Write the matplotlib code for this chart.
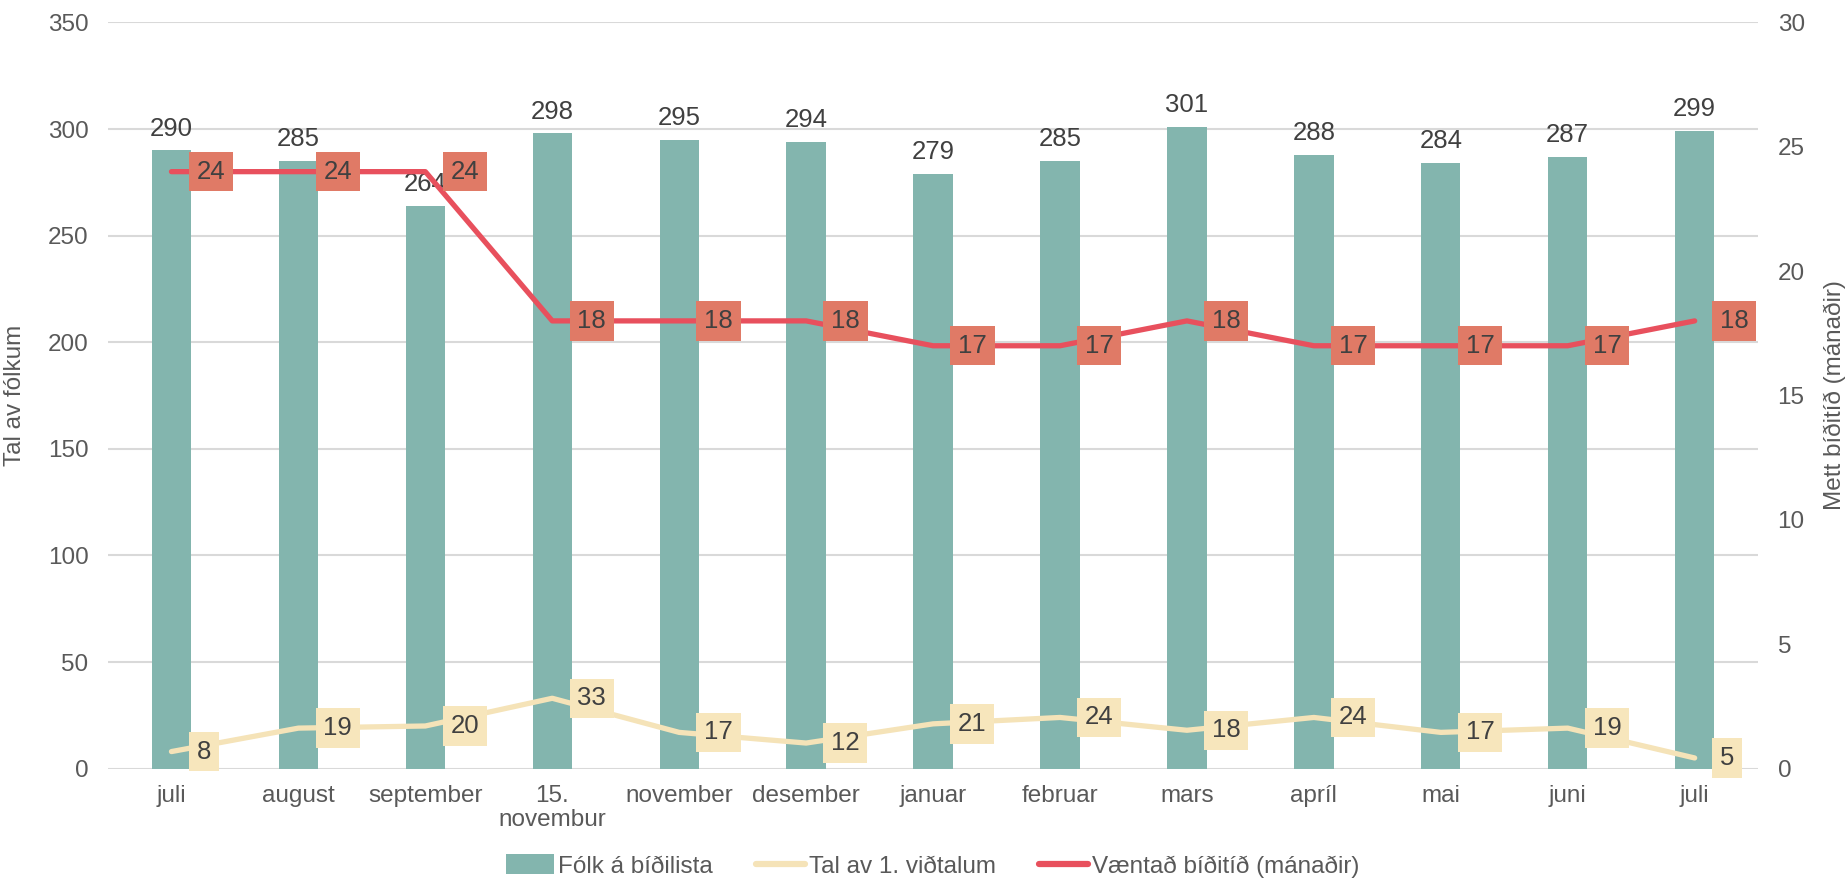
import matplotlib
matplotlib.use("Agg")
import matplotlib.pyplot as plt
from matplotlib.patches import Patch
from matplotlib.lines import Line2D
import numpy as np

plt.rcParams['font.family'] = ['Liberation Sans', 'DejaVu Sans']

categories = ["juli", "august", "september", "15.\nnovembur", "november", "desember",
              "januar", "februar", "mars", "apríl", "mai", "juni", "juli"]
folk_a_bidilista = [290, 285, 264, 298, 295, 294, 279, 285, 301, 288, 284, 287, 299]
tal_1_vidtalum = [8, 19, 20, 33, 17, 12, 21, 24, 18, 24, 17, 19, 5]
vaentad_biditid = [24, 24, 24, 18, 18, 18, 17, 17, 18, 17, 17, 17, 18]

left_ticks = [0, 50, 100, 150, 200, 250, 300, 350]
right_ticks = [0, 5, 10, 15, 20, 25, 30]

BAR_C = "#83B5AE"
YEL_C = "#F5E3B8"
YEL_BOX = "#F7E6BC"
RED_C = "#E8505D"
RED_BOX = "#E07A66"
TICK_C = "#595959"
LBL_C = "#404040"
GRID_C = "#D9D9D9"

FS = 17.5
DFS = 18.5

fig = plt.figure(figsize=(18.46, 8.89), dpi=100)
ax = fig.add_axes([0.0585, 0.1354, 0.8939, 0.8394])
ax2 = ax.twinx()

x = np.arange(len(categories))

ax.bar(x, folk_a_bidilista, width=0.31, color=BAR_C, zorder=2)
ax.plot(x, tal_1_vidtalum, color=YEL_C, lw=3.8, solid_capstyle='round', zorder=3)
ax2.plot(x, vaentad_biditid, color=RED_C, lw=3.8, solid_capstyle='round', zorder=3)

ax.set_xlim(-0.5, len(categories) - 0.5)
ax.set_ylim(0, 350)
ax2.set_ylim(0, 30)
ax.set_yticks(left_ticks)
ax2.set_yticks(right_ticks)
ax.set_xticks(x)
ax.set_xticklabels(categories, fontsize=FS, color=TICK_C, linespacing=1.1)

ax.grid(axis='y', color=GRID_C, lw=1.5, zorder=0)
ax.set_axisbelow(True)
for a in (ax, ax2):
    for s in a.spines.values():
        s.set_visible(False)
    a.tick_params(length=0, labelsize=FS, labelcolor=TICK_C)
ax.tick_params(axis='y', pad=14)
ax2.tick_params(axis='y', pad=14)
ax.tick_params(axis='x', pad=12)
ax2.patch.set_visible(False)

ax.set_ylabel("Tal av fólkum", fontsize=FS, color=TICK_C)
ax.yaxis.set_label_coords(-0.0497, 0.5)
ax2.set_ylabel("Mett bíðitíð (mánaðir)", fontsize=FS, color=TICK_C, rotation=90)
ax2.yaxis.set_label_coords(1.0395, 0.5)

# bar value labels
for xi, v in zip(x, folk_a_bidilista):
    ax.annotate(str(v), (xi, v), xytext=(0, 7), textcoords='offset points',
                ha='center', va='bottom', fontsize=DFS, color=LBL_C, zorder=4)

# yellow line labels
for xi, v in zip(x, tal_1_vidtalum):
    ax.annotate(str(v), (xi, v), xytext=(18, 0), textcoords='offset points',
                ha='left', va='center', fontsize=DFS, color=LBL_C, zorder=5,
                bbox=dict(boxstyle='square,pad=0.3', fc=YEL_BOX, ec='none'))

# red line labels
for xi, v in zip(x, vaentad_biditid):
    ax2.annotate(str(v), (xi, v), xytext=(18, 0), textcoords='offset points',
                 ha='left', va='center', fontsize=DFS, color=LBL_C, zorder=5,
                 bbox=dict(boxstyle='square,pad=0.3', fc=RED_BOX, ec='none'))

handles = [Patch(facecolor=BAR_C, edgecolor='none'),
           Line2D([], [], color=YEL_C, lw=4.5, solid_capstyle='round'),
           Line2D([], [], color=RED_C, lw=4.5, solid_capstyle='round')]
labels = ["Fólk á bíðilista", "Tal av 1. viðtalum", "Væntað bíðitíð (mánaðir)"]
leg = fig.legend(handles, labels, loc='lower center', bbox_to_anchor=(0.505, -0.012),
                 ncol=3, frameon=False, fontsize=FS, handlelength=2.0,
                 handletextpad=0.15, columnspacing=1.8, handleheight=0.9)
for t in leg.get_texts():
    t.set_color(TICK_C)

fig.savefig("out.png", dpi=100)
